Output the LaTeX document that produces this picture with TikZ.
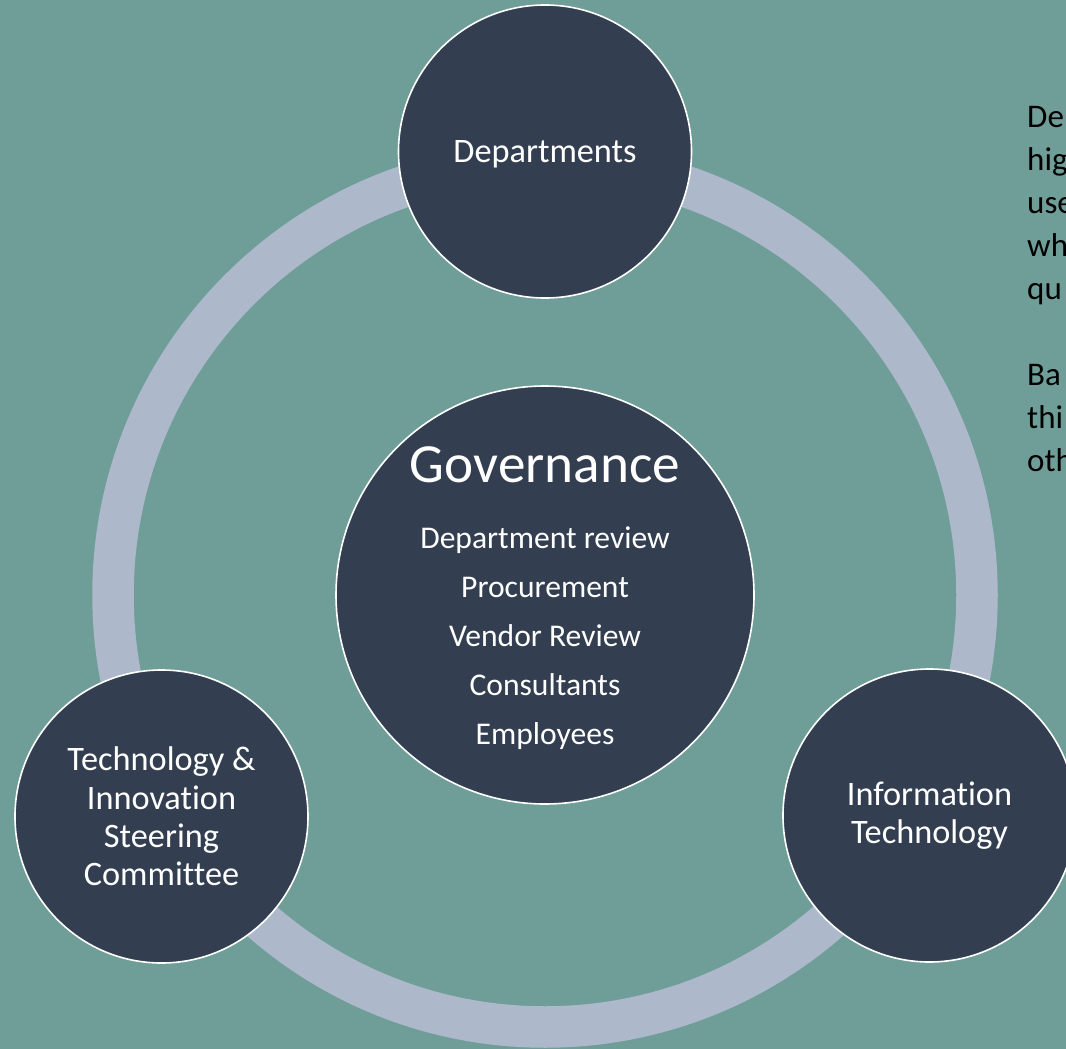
\documentclass[tikz,border=0pt]{standalone}
\usepackage{fontspec}
\setmainfont{Carlito}[Ligatures=NoCommon]
\definecolor{bgteal}{HTML}{6F9E99}
\definecolor{ringblue}{HTML}{ADB9CA}
\definecolor{navy}{HTML}{333F50}

\begin{document}
\begin{tikzpicture}[x=1pt, y=-1pt,
  bubble/.style={circle, fill=navy, draw=white, line width=1.6pt, minimum size=293pt,
    inner sep=0pt, align=center, text=white, font=\fontsize{34.3}{38.3}\selectfont},
  hub/.style={bubble, minimum size=418pt},
  govitem/.style={anchor=base, inner sep=0pt, text=white, font=\fontsize{31.6}{38}\selectfont},
  note/.style={anchor=base west, inner sep=0pt, text=black, font=\fontsize{33}{40}\selectfont}]
  \fill[bgteal] (0,0) rectangle (1066,1049);
  \useasboundingbox (0,0) rectangle (1066,1049);
  \draw[ringblue, line width=41.5pt] (545,595) circle[radius=432pt];
  \node[hub] (gov) at (545,595) {};
  \node[govitem, font=\fontsize{55.2}{60}\selectfont] (govtitle) at (545,482) {Governance};
  \foreach \txt [count=\i] in {Department review, Procurement, Vendor Review, Consultants, Employees}
    \node[govitem] (gov-\i) at (545,{548.3+49*(\i-1)}) {\txt};
  \node[bubble, text depth=0pt] (dept) at (545,151.5) {Departments};
  \node[bubble] (tisc) at (161.5,816.5) {Technology \&\\Innovation\\Steering\\Committee};
  \node[bubble] (it) at (929.5,815.5) {Information\\Technology};
  \foreach \txt/\y [count=\i] in {De/127, hig/170, use/213, wh/256, qu/299, Ba/385, thi/428, oth/471}
    \node[note] (note-\i) at (1027,\y) {\txt};
\end{tikzpicture}
\end{document}
